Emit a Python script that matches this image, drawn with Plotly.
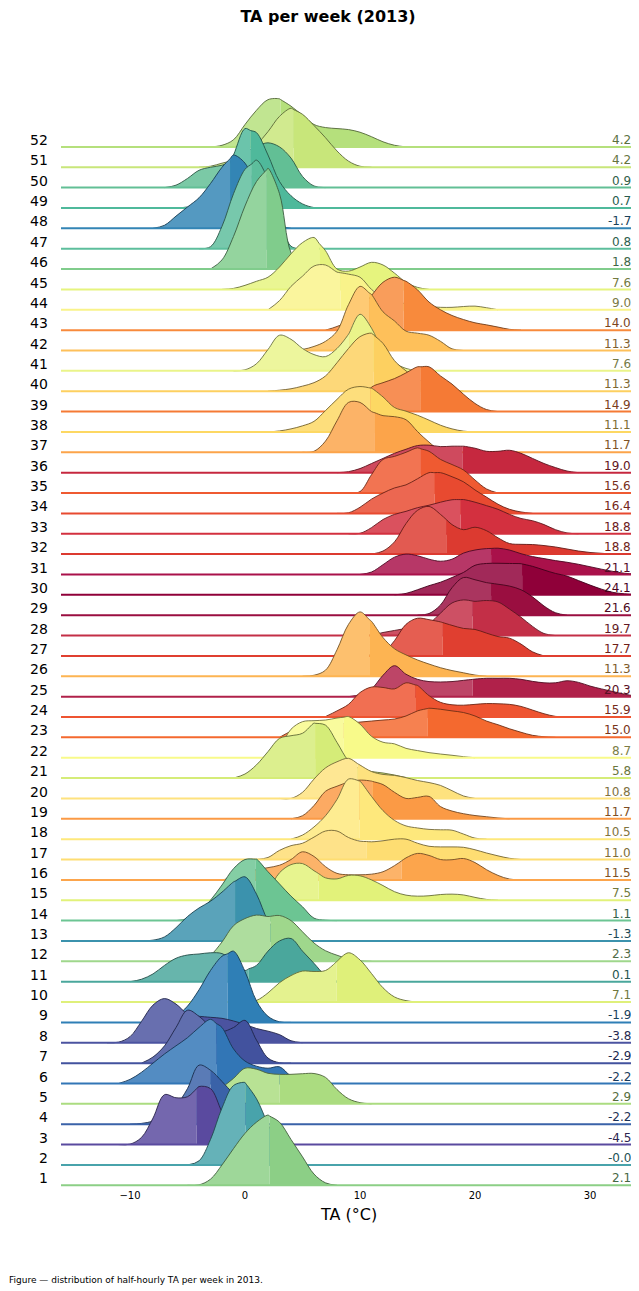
import numpy as np
import plotly.graph_objects as go

# one ridge per ISO week, weeks 1..52
weeks = list(range(1, 53))

# weekly mean TA (right hand labels)
week_means = [2.1, -0.0, -4.5, -2.2, 2.9, -2.2, -2.9, -3.8, -1.9, 7.1,
              0.1, 2.3, -1.3, 1.1, 7.5, 11.5, 11.0, 10.5, 11.7, 10.8,
              5.8, 8.7, 15.0, 15.9, 20.3, 11.3, 17.7, 19.7, 21.6, 24.1,
              21.1, 18.8, 18.8, 16.4, 15.6, 19.0, 11.7, 11.1, 14.9, 11.3,
              7.6, 11.3, 14.0, 9.0, 7.6, 1.8, 0.8, -1.7, 0.7, 0.9,
              4.2, 4.2]

# weekly median TA (where the fill changes shade)
week_medians = [2.14, 0.05, -4.2, -3.0, 3.0, -2.5, -2.5, -3.9, -1.5, 7.95,
                0.3, 2.2, -0.86, 0.9, 6.4, 13.6, 10.55, 9.95, 11.1, 9.8,
                6.1, 8.6, 15.9, 14.8, 19.8, 10.8, 17.2, 19.8, 21.4, 24.1,
                21.4, 17.5, 18.75, 16.5, 15.3, 18.9, 11.3, 10.9, 15.3, 11.2,
                9.1, 10.8, 13.8, 8.3, 6.45, 1.9, 0.6, -1.3, 0.5, 1.1,
                4.24, 3.1]

# first temperature (degC) of each density curve, one value per degree after it
ridge_start = [-5, -5, -11, -10, -5, -11, -9, -12, -8, 0,
               -10, -4, -9, -6, 0, -2, 1, 4, 4, 3,
               -1, 2, 3, 7, 9, 5, 10, 10, 15, 13,
               10, 11, 9, 8, 9, 8, 5, 2, 8, 2,
               -1, 4, 7, 2, -2, -3, -4, -8, -6, -7,
               -4, -4]

# density heights (in row units)
ridge_heights = [
    [0, 0.02, 0.3, 1.0, 1.8, 2.55, 3.1, 3.45, 3.1, 2.25, 1.4, 0.55, 0.12, 0],
    [0, 0.2, 1.25, 2.8, 3.9, 4.05, 3.25, 2.0, 0.9, 0.3, 0.05, 0],
    [0, 0.02, 0.35, 1.3, 2.45, 2.3, 2.35, 2.85, 2.75, 1.6, 0.6, 0.08, 0],
    [0, 0.04, 0.15, 0.4, 0.9, 1.75, 2.9, 2.65, 2.1, 1.5, 1.05, 0.55, 0.03, 0],
    [0, 0.05, 0.35, 0.8, 1.25, 1.75, 1.7, 1.5, 1.45, 1.45, 1.48, 1.49, 1.3, 0.7, 0.25, 0.06, 0],
    [0, 0.2, 0.55, 1.0, 1.45, 1.85, 2.25, 2.75, 3.15, 2.75, 1.7, 1.1, 0.85, 0.75, 0.82, 0.35, 0.05, 0],
    [0, 0.3, 0.85, 1.75, 2.6, 2.3, 1.8, 1.55, 1.75, 2.1, 1.13, 0.25, 0.02, 0],
    [0, 0.03, 0.3, 1.05, 1.85, 2.17, 1.9, 1.42, 1.3, 1.25, 1.2, 1.07, 0.9, 0.7, 0.57, 0.4, 0.1, 0],
    [0, 0.08, 0.3, 0.8, 1.6, 2.55, 3.25, 3.5, 2.5, 1.05, 0.3, 0.03, 0],
    [0, 0.08, 0.45, 0.95, 1.3, 1.52, 1.5, 1.55, 2.0, 2.42, 2.07, 1.4, 0.7, 0.25, 0.07, 0],
    [0, 0.12, 0.38, 0.8, 1.15, 1.31, 1.36, 1.42, 1.38, 1.0, 0.55, 0.8, 1.5, 2.0, 2.12, 1.5, 0.9, 0.3, 0.02, 0],
    [0, 0.3, 0.95, 1.75, 2.1, 2.27, 2.2, 2.25, 2.0, 1.45, 0.9, 0.52, 0.3, 0.12, 0.03, 0],
    [0, 0.04, 0.2, 0.65, 1.2, 1.62, 1.95, 2.4, 2.9, 3.15, 2.3, 1.0, 0.3, 0.05, 0],
    [0, 0.1, 0.4, 1.0, 1.75, 2.55, 3.0, 3.02, 2.4, 1.8, 1.2, 0.68, 0.12, 0.02, 0],
    [0, 0.05, 0.5, 1.35, 1.75, 1.8, 1.45, 1.1, 1.05, 1.22, 1.2, 1.0, 0.72, 0.42, 0.25, 0.2, 0.22, 0.28, 0.3, 0.26, 0.14, 0.04, 0],
    [0, 0.12, 0.4, 0.5, 0.6, 0.72, 1.0, 1.38, 1.15, 0.65, 0.32, 0.25, 0.25, 0.28, 0.4, 0.7, 1.08, 1.3, 1.2, 1.0, 0.99, 1.05, 0.85, 0.5, 0.22, 0.04, 0],
    [0, 0.1, 0.45, 0.68, 0.8, 1.1, 1.4, 1.4, 1.08, 0.9, 0.87, 0.92, 1.0, 1.0, 0.8, 0.65, 0.62, 0.62, 0.6, 0.48, 0.32, 0.18, 0.06, 0],
    [0, 0.2, 0.6, 1.15, 1.95, 2.95, 2.85, 2.1, 1.4, 0.92, 0.65, 0.55, 0.48, 0.46, 0.44, 0.25, 0.05, 0],
    [0, 0.15, 0.65, 1.35, 1.6, 1.8, 1.9, 1.85, 1.68, 1.3, 1.0, 1.05, 1.1, 0.6, 0.38, 0.25, 0.16, 0.1, 0.04, 0],
    [0, 0, 0.3, 0.95, 1.5, 1.8, 1.97, 1.64, 1.32, 1.18, 1.13, 1.02, 0.88, 0.78, 0.64, 0.38, 0.12, 0],
    [0, 0.2, 0.65, 1.3, 1.95, 2.08, 2.2, 2.7, 2.6, 1.75, 0.85, 0.45, 0.32, 0.25, 0.15, 0.03, 0],
    [0, 0.5, 1.4, 1.77, 1.82, 1.85, 1.95, 2.02, 1.65, 1.05, 0.76, 0.68, 0.46, 0.35, 0.25, 0.18, 0.12, 0.05, 0],
    [0, 0.3, 0.5, 0.55, 0.6, 0.65, 0.7, 0.75, 0.8, 0.85, 0.9, 1.05, 1.3, 1.43, 1.38, 1.3, 1.22, 1.05, 0.8, 0.62, 0.42, 0.25, 0.1, 0.03, 0],
    [0.02, 0.3, 0.62, 1.2, 1.47, 1.45, 1.38, 1.68, 1.55, 1.05, 0.72, 0.6, 0.58, 0.62, 0.66, 0.65, 0.62, 0.52, 0.34, 0.16, 0.03, 0],
    [0, 0.1, 0.38, 1.05, 1.52, 1.1, 0.85, 0.74, 0.72, 0.74, 0.8, 0.86, 0.9, 0.9, 0.9, 0.85, 0.75, 0.68, 0.68, 0.78, 0.7, 0.52, 0.38, 0.25, 0.12, 0.03],
    [0, 0.05, 0.3, 1.3, 2.55, 3.16, 2.7, 1.9, 1.35, 1.05, 0.8, 0.6, 0.42, 0.28, 0.17, 0.06, 0],
    [0, 0.05, 0.15, 0.75, 1.55, 1.85, 1.78, 1.67, 1.5, 1.35, 1.3, 1.12, 0.95, 0.87, 0.58, 0.2, 0],
    [0, 0.02, 0.15, 0.25, 0.35, 0.45, 0.6, 1.1, 1.6, 1.75, 1.68, 1.72, 1.65, 1.3, 0.9, 0.45, 0.1, 0],
    [0, 0.08, 0.5, 1.35, 1.85, 1.74, 1.6, 1.52, 1.43, 1.25, 0.9, 0.45, 0.12, 0],
    [0, 0.07, 0.25, 0.45, 0.62, 0.85, 1.1, 1.45, 1.54, 1.55, 1.54, 1.53, 1.4, 1.22, 1.05, 0.92, 0.7, 0.48, 0.28, 0.12, 0.05, 0.02],
    [0, 0.12, 0.48, 0.85, 1.0, 0.92, 0.75, 0.65, 0.75, 1.05, 1.2, 1.27, 1.29, 1.2, 1.02, 0.88, 0.78, 0.68, 0.6, 0.5, 0.38, 0.26, 0.15, 0.06, 0.02],
    [0, 0.15, 0.6, 1.5, 2.15, 2.34, 1.95, 1.45, 1.2, 1.32, 1.15, 0.8, 0.52, 0.48, 0.47, 0.42, 0.35, 0.25, 0.15, 0.08, 0.04, 0],
    [0, 0.02, 0.3, 0.7, 0.95, 1.1, 1.28, 1.4, 1.55, 1.67, 1.68, 1.55, 1.38, 1.2, 0.95, 0.75, 0.64, 0.45, 0.2, 0.04, 0],
    [0, 0.03, 0.3, 0.7, 1.0, 1.25, 1.4, 1.7, 2.0, 2.0, 1.8, 1.55, 1.15, 0.8, 0.45, 0.2, 0.07, 0],
    [0, 0.07, 0.9, 1.65, 1.8, 2.0, 2.22, 2.05, 1.65, 1.4, 1.13, 0.64, 0.2, 0],
    [0, 0.05, 0.2, 0.45, 0.7, 0.95, 1.15, 1.33, 1.35, 1.28, 1.3, 1.3, 1.2, 1.05, 1.05, 1.1, 0.95, 0.7, 0.45, 0.25, 0.08, 0],
    [0, 0.05, 0.55, 1.55, 2.45, 2.45, 2.0, 1.8, 1.75, 1.6, 1.02, 0.5, 0.08, 0],
    [0, 0.05, 0.15, 0.3, 0.52, 1.05, 1.6, 2.1, 2.23, 2.15, 1.72, 1.2, 1.02, 0.82, 0.58, 0.33, 0.15, 0.04, 0],
    [0, 0.15, 0.5, 1.2, 1.42, 1.62, 1.9, 2.2, 2.2, 1.75, 1.35, 0.85, 0.4, 0.1, 0],
    [0, 0.05, 0.12, 0.25, 0.42, 0.75, 1.4, 2.1, 2.68, 2.85, 2.35, 1.5, 1.0, 0.6, 0.35, 0.18, 0.06, 0],
    [0, 0.05, 0.35, 1.05, 1.75, 1.55, 1.1, 0.8, 0.7, 1.1, 1.8, 2.78, 2.1, 0.95, 0.4, 0.12, 0],
    [0, 0.05, 0.2, 0.45, 0.95, 2.25, 3.15, 2.75, 1.9, 1.45, 0.95, 0.85, 0.75, 0.45, 0.08, 0],
    [0, 0.18, 0.45, 1.0, 1.7, 2.35, 2.6, 2.4, 1.98, 1.38, 1.0, 0.72, 0.52, 0.36, 0.26, 0.15, 0.04, 0],
    [0, 0.45, 1.15, 1.65, 2.15, 2.2, 1.85, 1.75, 1.6, 1.0, 0.6, 0.4, 0.3, 0.2, 0.15, 0.12, 0.12, 0.16, 0.18, 0.1, 0],
    [0, 0.05, 0.2, 0.4, 0.6, 1.1, 1.75, 2.3, 2.55, 1.9, 1.0, 0.9, 1.1, 1.33, 1.2, 0.8, 0.35, 0.1, 0],
    [0, 0.45, 1.6, 3.1, 4.3, 4.95, 3.7, 0.8, 0],
    [0, 0.1, 1.1, 2.7, 3.9, 4.35, 3.4, 1.6, 0.12, 0],
    [0, 0.15, 0.6, 1.05, 1.5, 2.2, 3.0, 3.6, 3.2, 1.9, 0.7, 0.15, 0],
    [0, 0.05, 0.2, 0.6, 1.4, 2.6, 3.9, 3.7, 2.6, 1.3, 0.6, 0.2, 0.02, 0],
    [0, 0.12, 0.45, 0.85, 1.0, 1.1, 1.35, 1.7, 2.05, 2.2, 2.0, 1.45, 0.55, 0.08, 0],
    [0, 0.05, 0.2, 0.35, 0.6, 1.1, 1.75, 2.5, 2.9, 2.6, 2.05, 1.45, 0.8, 0.3, 0.05, 0],
    [0, 0, 0.08, 0.35, 1.1, 1.8, 2.32, 2.36, 2.0, 1.55, 1.1, 0.95, 0.9, 0.85, 0.72, 0.5, 0.25, 0.08, 0],
]

# fill colour of each ridge (right of the median)
ridge_colors = ['#8ccf86', '#48a3ab', '#5a4a9f', '#3a62a8', '#abdc80', '#3276b6', '#42529e', '#4b53a0', '#2f7fb6', '#dff07a',
                '#4aa79c', '#9fd78c', '#3b92ad', '#6cc593', '#e2f27a', '#fca54c', '#fedd72', '#fee87c', '#fb9a45', '#fee27e',
                '#d5ec78', '#f8fa8a', '#f4692f', '#ee5431', '#b0214a', '#fdb452', '#e03f30', '#c32f47', '#9a0e40', '#8f0039',
                '#a9114a', '#dc3a30', '#d3303f', '#e84a30', '#ef5a31', '#c6283f', '#fca44a', '#fdd863', '#f57a35', '#fdd060',
                '#eaf48a', '#fec05a', '#f88a3c', '#f9f38a', '#e6f47e', '#80cc8c', '#5dbe9c', '#3385b5', '#4fb99b', '#62bf95',
                '#c8e67a', '#b5e07c']

x_range = [-16, 34]
x_ticks = [-10, 0, 10, 20, 30]

FONT = 'DejaVu Sans'

# the page body has an 8px margin, so the figure is 8px smaller than the window
W, H = 631, 1283


def hexRgb(c):
    c = c.lstrip('#')
    return tuple(int(c[i:i + 2], 16) for i in (0, 2, 4))


def mix(c, other, f):
    rgb = hexRgb(c)
    return 'rgb(%d,%d,%d)' % tuple(round(a + (b - a) * f) for a, b in zip(rgb, other))


def addFill(fig, xc, yc, base, color):
    # invisible baseline, then the curve filled down to it
    fig.add_trace(go.Scatter(x=[xc[0], xc[-1]], y=[base, base], mode='lines',
                             line=dict(width=0), hoverinfo='skip', showlegend=False))
    fig.add_trace(go.Scatter(x=xc, y=yc, mode='lines', fill='tonexty', fillcolor=color,
                             line=dict(width=0, shape='spline', smoothing=1),
                             hoverinfo='skip', showlegend=False))


fig = go.Figure()
annotations = []

# top row first, so lower weeks are drawn over upper ones
for i in reversed(range(len(weeks))):
    base = i
    hs = np.array(ridge_heights[i], dtype=float)
    xs = ridge_start[i] + np.arange(len(hs))
    med = week_medians[i]
    hMed = float(np.interp(med, xs, hs))
    color = ridge_colors[i]
    light = mix(color, (255, 255, 255), 0.16)
    dark = mix(color, (0, 0, 0), 0.55)

    xl = list(xs[xs < med]) + [med]
    yl = list(base + hs[xs < med]) + [base + hMed]
    xr = [med] + list(xs[xs > med])
    yr = [base + hMed] + list(base + hs[xs > med])

    addFill(fig, xl, yl, base, light)
    addFill(fig, xr, yr, base, color)
    fig.add_trace(go.Scatter(x=xl + xr[1:], y=yl + yr[1:], mode='lines',
                             line=dict(color=dark, width=0.9, shape='spline', smoothing=1),
                             hoverinfo='skip', showlegend=False))
    fig.add_trace(go.Scatter(x=x_range, y=[base, base], mode='lines',
                             line=dict(color=color, width=2),
                             hoverinfo='skip', showlegend=False))

    annotations.append(dict(x=-0.019, xref='paper', y=base + 0.34, yref='y',
                            text=str(weeks[i]), showarrow=False, xanchor='right', yanchor='middle',
                            font=dict(family=FONT, size=14, color='black')))
    annotations.append(dict(x=33.7, xref='x', y=base + 0.34, yref='y',
                            text=f'{week_means[i]:.1f}', showarrow=False, xanchor='right', yanchor='middle',
                            font=dict(family=FONT, size=12, color=mix(color, (0, 0, 0), 0.5))))

annotations.append(dict(x=0.5, xref='paper', y=-0.0235, yref='paper', text='TA (°C)',
                        showarrow=False, xanchor='center', yanchor='middle',
                        font=dict(family=FONT, size=16, color='black')))
annotations.append(dict(x=-0.0939, xref='paper', y=-0.0801, yref='paper',
                        text='Figure — distribution of half-hourly TA per week in 2013.',
                        showarrow=False, xanchor='left', yanchor='middle',
                        font=dict(family=FONT, size=9, color='black')))

fig.update_layout(
    width=W, height=H,
    margin=dict(l=53, r=3, t=32, b=103),
    plot_bgcolor='white', paper_bgcolor='white',
    showlegend=False,
    title=dict(text='<b>TA per week (2013)</b>', x=320 / W, xref='container', xanchor='center',
               y=1 - 8 / H, yref='container', yanchor='middle',
               font=dict(family=FONT, size=16, color='black')),
    xaxis=dict(range=x_range, tickvals=x_ticks, showgrid=False, zeroline=False, showline=False,
               ticks='', tickfont=dict(family=FONT, size=10, color='black')),
    yaxis=dict(range=[-0.133, 56.25], visible=False),
    annotations=annotations,
)

fig.write_html('out.html')
